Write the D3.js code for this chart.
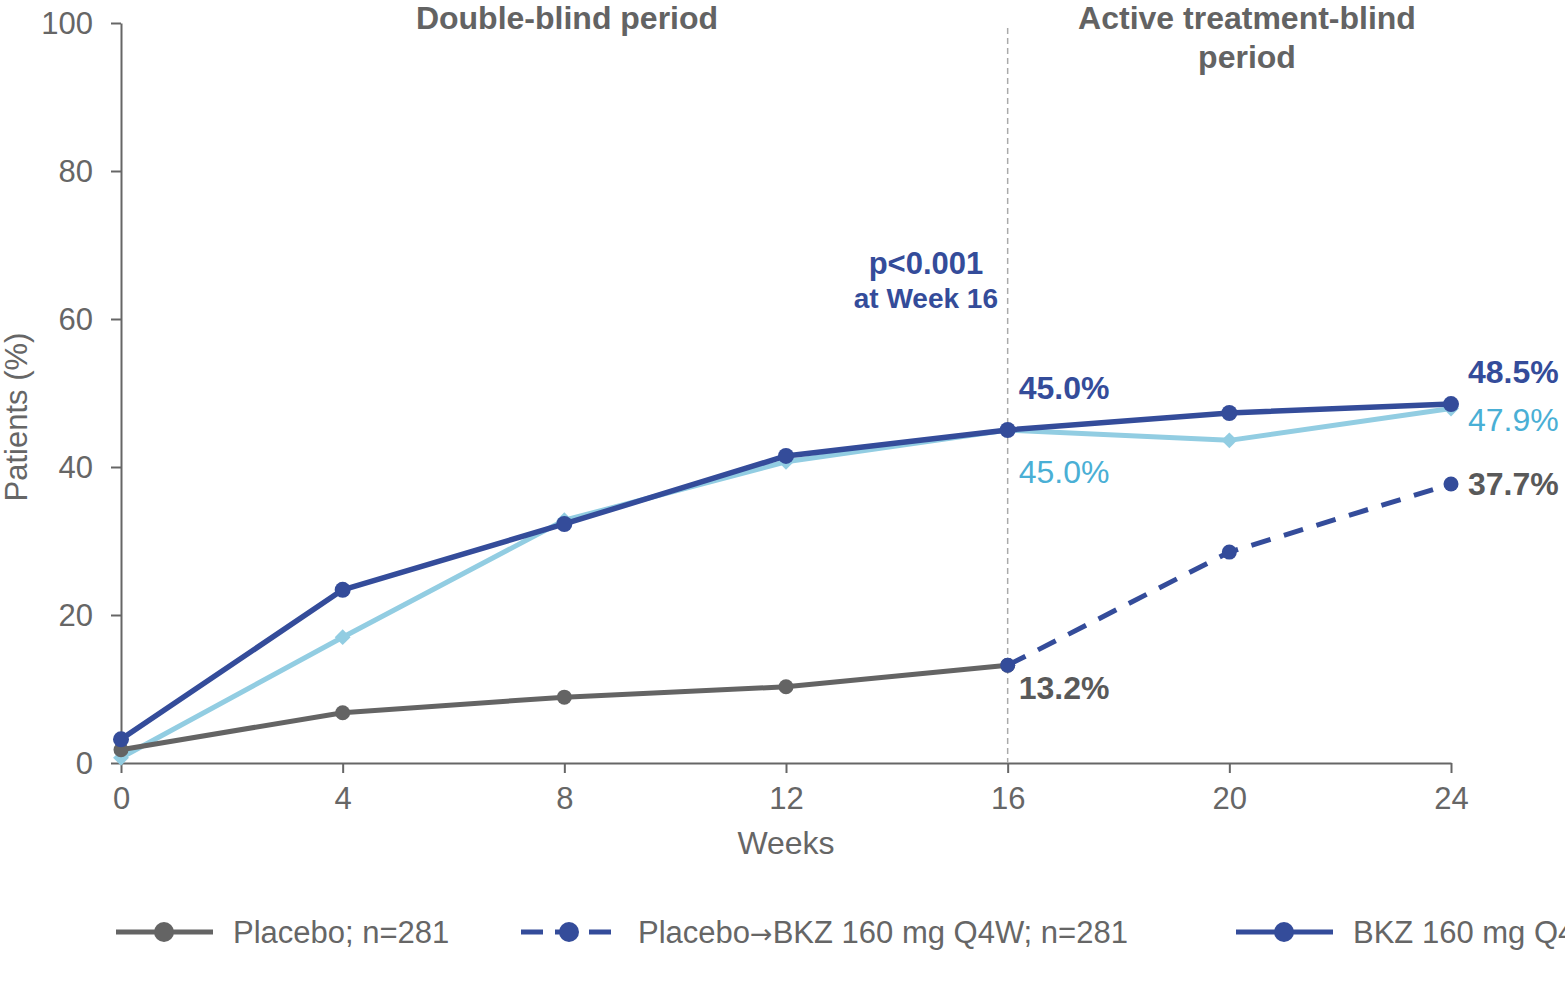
<!DOCTYPE html>
<html>
<head>
<meta charset="utf-8">
<script src="https://cdn.jsdelivr.net/npm/d3@7"></script>
<style>
  body { margin: 0; overflow: hidden; background: #fff; }
  svg { font-family: 'Liberation Sans', Arial, sans-serif; overflow: hidden; }
  .axis path, .axis line { stroke: #666666; stroke-width: 2px; }
  .axis text { fill: #666666; font-size: 31px; }
</style>
</head>
<body>
<svg id="chart" width="1565" height="990"></svg>
<script>
// data
const weeks = [0, 4, 8, 12, 16, 20, 24];
const bkz = [3.2, 23.4, 32.3, 41.5, 45.0, 47.3, 48.5];
const bkzLight = [0.7, 17.0, 32.8, 40.7, 45.0, 43.6, 47.9];
const placeboWeeks = [0, 4, 8, 12, 16];
const placebo = [1.8, 6.8, 8.9, 10.3, 13.2];
const switchWeeks = [16, 20, 24];
const placeboSwitch = [13.2, 28.5, 37.7];
const yTicks = [0, 20, 40, 60, 80, 100];
const xTicks = [0, 4, 8, 12, 16, 20, 24];
const legendNames = [['Placebo; n=281'], ['Placebo', '\u2192', 'BKZ 160 mg Q4W; n=281'], ['BKZ 160 mg Q4W; n=568']];

const darkBlue = '#344c9a';
const lightBlue = '#92cde2';
const lightBlueText = '#4aafd5';
const grey = '#646464';

const svg = d3.select('#chart');
const margin = { top: 23, left: 121 };
const width = 1330;
const height = 740;

const g = svg.append('g').attr('transform', 'translate(' + margin.left + ',' + margin.top + ')');

const x = d3.scaleLinear().domain([0, 24]).range([0, width]);
const y = d3.scaleLinear().domain([0, 100]).range([height, 0]);

// axes
g.append('g')
  .attr('class', 'axis')
  .call(d3.axisLeft(y).tickValues(yTicks).tickSize(10).tickPadding(18).tickSizeOuter(0))
  .selectAll('text').attr('dy', '0.35em');

g.append('g')
  .attr('class', 'axis')
  .attr('transform', 'translate(0,' + height + ')')
  .call(d3.axisBottom(x).tickValues(xTicks).tickSize(10).tickPadding(14).tickSizeOuter(0));

// week 16 divider
g.append('line')
  .attr('x1', x(16)).attr('x2', x(16))
  .attr('y1', 5).attr('y2', height)
  .attr('stroke', '#aaaaaa').attr('stroke-width', 1.5)
  .attr('stroke-dasharray', '6,4');

// axis titles
svg.append('text')
  .attr('x', margin.left + x(12)).attr('y', 854)
  .attr('text-anchor', 'middle')
  .attr('fill', '#666666').attr('font-size', 32)
  .text('Weeks');

svg.append('text')
  .attr('transform', 'translate(27,' + (margin.top + y(50) + 24) + ') rotate(-90)')
  .attr('text-anchor', 'middle')
  .attr('fill', '#666666').attr('font-size', 31)
  .text('Patients (%)');

// period headers
svg.append('text')
  .attr('x', 567).attr('y', 29)
  .attr('text-anchor', 'middle').attr('font-weight', 'bold')
  .attr('fill', '#636363').attr('font-size', 32)
  .text('Double-blind period');

const active = svg.append('text')
  .attr('text-anchor', 'middle').attr('font-weight', 'bold')
  .attr('fill', '#636363').attr('font-size', 32);
active.append('tspan').attr('x', 1247).attr('y', 29).text('Active treatment-blind');
active.append('tspan').attr('x', 1247).attr('y', 68).text('period');

// p-value note
svg.append('text')
  .attr('x', 926).attr('y', 274)
  .attr('text-anchor', 'middle').attr('font-weight', 'bold')
  .attr('fill', darkBlue).attr('font-size', 31)
  .text('p<0.001');
svg.append('text')
  .attr('x', 998).attr('y', 308)
  .attr('text-anchor', 'end').attr('font-weight', 'bold')
  .attr('fill', darkBlue).attr('font-size', 28)
  .text('at Week 16');

const line = d3.line().x((d) => x(d[0])).y((d) => y(d[1]));

function drawSeries(xs, ys, color, opts) {
  const pts = xs.map((w, i) => [w, ys[i]]);
  g.append('path')
    .datum(pts)
    .attr('d', line)
    .attr('fill', 'none')
    .attr('stroke', color)
    .attr('stroke-width', opts.width)
    .attr('stroke-dasharray', opts.dash || null)
    .attr('stroke-linejoin', 'round');
  if (opts.diamond) {
    g.selectAll(null)
      .data(pts)
      .enter()
      .append('path')
      .attr('d', d3.symbol(d3.symbolDiamond2, 160)())
      .attr('transform', (d) => 'translate(' + x(d[0]) + ',' + y(d[1]) + ')')
      .attr('fill', color);
  } else {
    g.selectAll(null)
      .data(pts)
      .enter()
      .append('circle')
      .attr('cx', (d) => x(d[0]))
      .attr('cy', (d) => y(d[1]))
      .attr('r', opts.r)
      .attr('fill', color);
  }
}

drawSeries(weeks, bkzLight, lightBlue, { width: 5, diamond: true });
drawSeries(placeboWeeks, placebo, grey, { width: 5, r: 7.5 });
drawSeries(switchWeeks, placeboSwitch, darkBlue, { width: 5, r: 7.5, dash: '20,14' });
drawSeries(weeks, bkz, darkBlue, { width: 5.5, r: 8 });

// value labels
function label(text, xv, yv, color, bold, dx) {
  g.append('text')
    .attr('x', x(xv) + dx)
    .attr('y', y(yv))
    .attr('dy', '0.35em')
    .attr('font-weight', bold ? 'bold' : 'normal')
    .attr('font-size', 32)
    .attr('fill', color)
    .text(text);
}
label('45.0%', 16, 50.7, darkBlue, true, 11);
label('45.0%', 16, 39.4, lightBlueText, false, 11);
label('13.2%', 16, 10.2, '#595959', true, 11);
label('48.5%', 24, 52.8, darkBlue, true, 17);
label('47.9%', 24, 46.4, lightBlueText, false, 17);
label('37.7%', 24, 37.7, '#595959', true, 17);

// legend
const legendX = [116, 521, 1236];
const legendColors = [grey, darkBlue, darkBlue];
const legendDash = [null, '22,12', null];
const legend = svg.append('g').attr('transform', 'translate(0,932)');
legendNames.forEach((parts, i) => {
  const lg = legend.append('g').attr('transform', 'translate(' + legendX[i] + ',0)');
  lg.append('line')
    .attr('x1', 0).attr('x2', 97)
    .attr('stroke', legendColors[i]).attr('stroke-width', 5)
    .attr('stroke-dasharray', legendDash[i]);
  lg.append('circle').attr('cx', 48).attr('r', 10).attr('fill', legendColors[i]);
  const t = lg.append('text')
    .attr('x', 117).attr('dy', '0.35em')
    .attr('font-size', 31).attr('fill', '#666666');
  parts.forEach((p) => {
    t.append('tspan')
      .attr('font-family', p === '\u2192' ? "'DejaVu Sans', sans-serif" : null)
      .attr('font-size', p === '\u2192' ? 27 : null)
      .text(p);
  });
});
</script>
</body>
</html>
